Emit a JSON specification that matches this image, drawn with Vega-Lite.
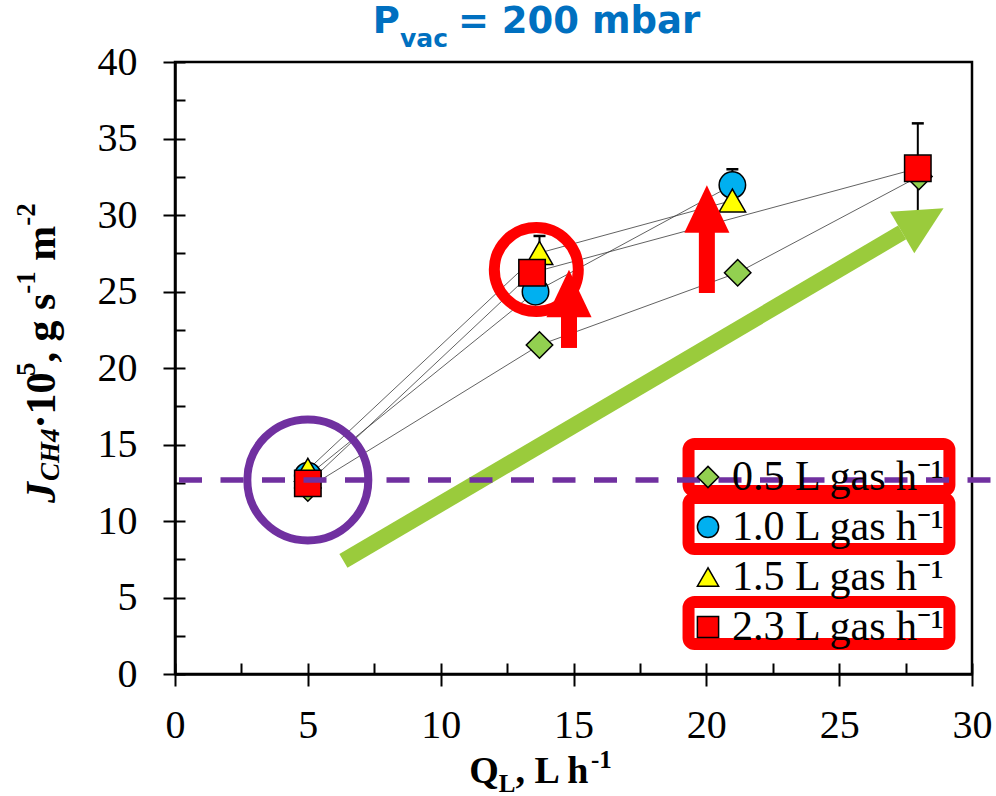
{
  "$schema": "https://vega.github.io/schema/vega-lite/v6.json",
  "width": 797,
  "height": 612,
  "autosize": {"type": "none"},
  "padding": {"left": 175, "top": 62, "right": 24, "bottom": 122},
  "background": "white",
  "config": {"view": {"stroke": "black", "strokeWidth": 2.5}},
  "datasets": {
    "pts": [
      {"gas": "0.5", "q": 5, "j": 12.16},
      {"gas": "0.5", "q": 13.72, "j": 21.5},
      {"gas": "0.5", "q": 21.18, "j": 26.23},
      {"gas": "0.5", "q": 28.0, "j": 32.52},
      {"gas": "1.0", "q": 5, "j": 12.96},
      {"gas": "1.0", "q": 13.57, "j": 24.99},
      {"gas": "1.0", "q": 20.98, "j": 31.96},
      {"gas": "1.5", "q": 5, "j": 13.35},
      {"gas": "1.5", "q": 13.72, "j": 27.52},
      {"gas": "1.5", "q": 20.98, "j": 30.95},
      {"gas": "2.3", "q": 5, "j": 12.46},
      {"gas": "2.3", "q": 13.44, "j": 26.23},
      {"gas": "2.3", "q": 27.96, "j": 33.05}
    ],
    "err": [
      {"gas": "1.5", "q": 13.72, "lo": 26.41, "hi": 28.63},
      {"gas": "1.0", "q": 20.98, "lo": 30.93, "hi": 32.99},
      {"gas": "2.3", "q": 27.96, "lo": 30.11, "hi": 35.99}
    ]
  },
  "resolve": {"axis": {"x": "independent", "y": "independent"}},
  "layer": [
    {
      "data": {"name": "pts"},
      "mark": {"type": "line", "stroke": "#3a3a3a", "strokeWidth": 0.8},
      "encoding": {
        "x": {"field": "q", "type": "quantitative",
          "scale": {"domain": [0, 30], "nice": false, "zero": false},
          "axis": {"orient": "bottom", "values": [0, 5, 10, 15, 20, 25, 30], "title": null, "grid": false,
            "tickSize": 12, "tickWidth": 2, "tickColor": "black", "domainColor": "black", "domainWidth": 2.5,
            "labelFont": "Liberation Serif", "labelFontSize": 40, "labelColor": "black", "labelPadding": 19,
            "labelFlush": false, "labelOverlap": false}},
        "y": {"field": "j", "type": "quantitative",
          "scale": {"domain": [0, 40], "nice": false, "zero": false},
          "axis": {"orient": "left", "values": [0, 5, 10, 15, 20, 25, 30, 35, 40], "title": null, "grid": false,
            "tickSize": 12, "tickWidth": 2, "tickColor": "black", "domainColor": "black", "domainWidth": 2.5,
            "labelFont": "Liberation Serif", "labelFontSize": 40, "labelColor": "black", "labelPadding": 26,
            "labelFlush": false, "labelOverlap": false}},
        "detail": {"field": "gas"}
      }
    },
    {
      "data": {"name": "err"},
      "mark": {"type": "rule", "stroke": "black", "strokeWidth": 2},
      "encoding": {
        "x": {"field": "q", "type": "quantitative", "axis": null},
        "y": {"field": "lo", "type": "quantitative", "axis": null},
        "y2": {"field": "hi"}
      }
    },
    {
      "data": {"name": "err"},
      "mark": {"type": "point", "shape": "stroke", "size": 144, "stroke": "black", "strokeWidth": 2.5, "filled": false, "opacity": 1},
      "encoding": {
        "x": {"field": "q", "type": "quantitative", "axis": null},
        "y": {"field": "hi", "type": "quantitative", "axis": null}
      }
    },
    {
      "data": {"name": "err"},
      "mark": {"type": "point", "shape": "stroke", "size": 144, "stroke": "black", "strokeWidth": 2.5, "filled": false, "opacity": 1},
      "encoding": {
        "x": {"field": "q", "type": "quantitative", "axis": null},
        "y": {"field": "lo", "type": "quantitative", "axis": null}
      }
    },
    {
      "data": {"name": "pts"},
      "mark": {"type": "point", "filled": true, "size": 700, "opacity": 1},
      "encoding": {
        "x": {"field": "q", "type": "quantitative",
          "axis": {"orient": "bottom", "values": [0, 2.5, 5, 7.5, 10, 12.5, 15, 17.5, 20, 22.5, 25, 27.5, 30],
            "title": null, "grid": false, "labels": false, "domain": false,
            "tickSize": -11, "tickWidth": 2, "tickColor": "black"}},
        "y": {"field": "j", "type": "quantitative",
          "axis": {"orient": "left", "values": [0, 2.5, 5, 7.5, 10, 12.5, 15, 17.5, 20, 22.5, 25, 27.5, 30, 32.5, 35, 37.5, 40],
            "title": null, "grid": false, "labels": false, "domain": false,
            "tickSize": -10, "tickWidth": 2, "tickColor": "black"}},
        "stroke": {"value": "black"},
        "strokeWidth": {"value": 1.5},
        "color": {"field": "gas", "type": "nominal",
          "scale": {"domain": ["0.5", "1.0", "1.5", "2.3"], "range": ["#92D050", "#00B0F0", "#FFFF00", "#FF0000"]},
          "legend": {"orient": "none", "legendX": 512, "legendY": 394, "title": null, "padding": 0,
            "labelExpr": "datum.label + ' L gas h⁻¹'", "labelFont": "Liberation Serif", "labelFontSize": 42,
            "labelColor": "black", "labelLimit": 400, "symbolSize": 450, "symbolStrokeColor": "black", "symbolStrokeWidth": 1.5,
            "labelOffset": 3, "rowPadding": 8, "symbolOpacity": 1,
            "encode": {"symbols": {"update": {"stroke": {"value": "black"}, "strokeWidth": {"value": 1.5}}}}}},
        "shape": {"field": "gas", "type": "nominal",
          "scale": {"domain": ["0.5", "1.0", "1.5", "2.3"], "range": ["diamond", "circle", "triangle-up", "square"]},
          "legend": {"orient": "none", "legendX": 512, "legendY": 394, "title": null, "padding": 0,
            "labelExpr": "datum.label + ' L gas h⁻¹'", "labelFont": "Liberation Serif", "labelFontSize": 42,
            "labelColor": "black", "labelLimit": 400, "symbolSize": 450, "symbolStrokeColor": "black", "symbolStrokeWidth": 1.5,
            "labelOffset": 3, "rowPadding": 8, "symbolOpacity": 1,
            "encode": {"symbols": {"update": {"stroke": {"value": "black"}, "strokeWidth": {"value": 1.5}}}}}}
      }
    },
    {
      "data": {"values": [{"q": 13.6, "j": 26.44}]},
      "mark": {"type": "point", "shape": "circle", "size": 7056, "stroke": "#FF0000", "strokeWidth": 11, "filled": false, "opacity": 1},
      "encoding": {
        "x": {"field": "q", "type": "quantitative", "axis": null},
        "y": {"field": "j", "type": "quantitative", "axis": null}
      }
    },
    {
      "data": {"values": [{"q": 5.0, "j": 12.68}]},
      "mark": {"type": "point", "shape": "circle", "size": 14641, "stroke": "#7030A0", "strokeWidth": 8, "filled": false, "opacity": 1},
      "encoding": {
        "x": {"field": "q", "type": "quantitative", "axis": null},
        "y": {"field": "j", "type": "quantitative", "axis": null}
      }
    },
    {
      "data": {"values": [{"q": 14.83, "lo": 21.31, "hi": 23.7}, {"q": 20.02, "lo": 24.9, "hi": 29.2}]},
      "mark": {"type": "rule", "stroke": "#FF0000", "strokeWidth": 16, "strokeCap": "butt"},
      "encoding": {
        "x": {"field": "q", "type": "quantitative", "axis": null},
        "y": {"field": "lo", "type": "quantitative", "axis": null},
        "y2": {"field": "hi"}
      }
    },
    {
      "data": {"values": [{"q": 14.83, "j": 24.87}, {"q": 20.02, "j": 30.39}]},
      "mark": {"type": "point", "shape": "M0,-1L0.95,1L-0.95,1Z", "size": 2256, "filled": true, "fill": "#FF0000", "strokeWidth": 0, "opacity": 1},
      "encoding": {
        "x": {"field": "q", "type": "quantitative", "axis": null},
        "y": {"field": "j", "type": "quantitative", "axis": null}
      }
    },
    {
      "data": {"values": [{"q": 6.34, "j": 7.39}, {"q": 27.37, "j": 28.86}]},
      "mark": {"type": "line", "stroke": "#9ACB3C", "strokeWidth": 16, "strokeCap": "butt"},
      "encoding": {
        "x": {"field": "q", "type": "quantitative", "axis": null},
        "y": {"field": "j", "type": "quantitative", "axis": null}
      }
    },
    {
      "data": {"values": [{"q": 28.15, "j": 29.65}]},
      "mark": {"type": "point", "shape": "M1,0L-1,-1L-1,1Z", "size": 2304, "angle": 329.6, "filled": true, "fill": "#9ACB3C", "strokeWidth": 0, "opacity": 1},
      "encoding": {
        "x": {"field": "q", "type": "quantitative", "axis": null},
        "y": {"field": "j", "type": "quantitative", "axis": null}
      }
    },
    {
      "data": {"values": [
        {"a": 19.33, "b": 29.15, "lo": 11.96, "hi": 15.03},
        {"a": 19.33, "b": 29.15, "lo": 8.17, "hi": 11.5},
        {"a": 19.33, "b": 29.15, "lo": 1.96, "hi": 4.71}
      ]},
      "mark": {"type": "rect", "filled": false, "stroke": "#FF0000", "strokeWidth": 12, "cornerRadius": 6},
      "encoding": {
        "x": {"field": "a", "type": "quantitative", "axis": null},
        "x2": {"field": "b"},
        "y": {"field": "lo", "type": "quantitative", "axis": null},
        "y2": {"field": "hi"}
      }
    },
    {
      "data": {"values": [{"a": 0, "b": 31, "j": 12.68}]},
      "mark": {"type": "rule", "stroke": "#7030A0", "strokeWidth": 5.5, "strokeDash": [23, 18.5], "strokeDashOffset": -4},
      "encoding": {
        "x": {"field": "a", "type": "quantitative", "axis": null},
        "x2": {"field": "b"},
        "y": {"field": "j", "type": "quantitative", "axis": null}
      }
    },
    {
      "data": {"values": [{"q": 7.44, "j": 41.9, "t": "P"}, {"q": 10.65, "j": 41.9, "t": "= 200 mbar"}]},
      "mark": {"type": "text", "font": "DejaVu Sans", "fontWeight": "bold", "fontSize": 37, "fill": "#0070C0", "align": "left", "baseline": "alphabetic"},
      "encoding": {
        "x": {"field": "q", "type": "quantitative", "axis": null},
        "y": {"field": "j", "type": "quantitative", "axis": null},
        "text": {"field": "t"}
      }
    },
    {
      "data": {"values": [{"q": 8.47, "j": 41.0, "t": "vac"}]},
      "mark": {"type": "text", "font": "DejaVu Sans", "fontWeight": "bold", "fontSize": 25, "fill": "#0070C0", "align": "left", "baseline": "alphabetic"},
      "encoding": {
        "x": {"field": "q", "type": "quantitative", "axis": null},
        "y": {"field": "j", "type": "quantitative", "axis": null},
        "text": {"field": "t"}
      }
    },
    {
      "data": {"values": [{"q": 11.08, "j": -7.12, "t": "Q"}, {"q": 12.82, "j": -7.12, "t": ", L h"}]},
      "mark": {"type": "text", "font": "Liberation Serif", "fontWeight": "bold", "fontSize": 38, "fill": "black", "align": "left", "baseline": "alphabetic"},
      "encoding": {
        "x": {"field": "q", "type": "quantitative", "axis": null},
        "y": {"field": "j", "type": "quantitative", "axis": null},
        "text": {"field": "t"}
      }
    },
    {
      "data": {"values": [{"q": 12.19, "j": -7.69, "t": "L"}, {"q": 15.66, "j": -6.14, "t": "-1"}]},
      "mark": {"type": "text", "font": "Liberation Serif", "fontWeight": "bold", "fontSize": 25, "fill": "black", "align": "left", "baseline": "alphabetic"},
      "encoding": {
        "x": {"field": "q", "type": "quantitative", "axis": null},
        "y": {"field": "j", "type": "quantitative", "axis": null},
        "text": {"field": "t"}
      }
    },
    {
      "data": {"values": [{"q": -4.52, "j": 11.18, "t": "J"}]},
      "mark": {"type": "text", "font": "Liberation Serif", "fontWeight": "bold", "fontStyle": "italic", "fontSize": 42, "fill": "black", "align": "left", "baseline": "alphabetic", "angle": 270},
      "encoding": {
        "x": {"field": "q", "type": "quantitative", "axis": null},
        "y": {"field": "j", "type": "quantitative", "axis": null},
        "text": {"field": "t"}
      }
    },
    {
      "data": {"values": [{"q": -4.37, "j": 12.61, "t": "CH4"}]},
      "mark": {"type": "text", "font": "Liberation Serif", "fontWeight": "bold", "fontStyle": "italic", "fontSize": 27, "fill": "black", "align": "left", "baseline": "alphabetic", "angle": 270},
      "encoding": {
        "x": {"field": "q", "type": "quantitative", "axis": null},
        "y": {"field": "j", "type": "quantitative", "axis": null},
        "text": {"field": "t"}
      }
    },
    {
      "data": {"values": [{"q": -4.52, "j": 16.05, "t": "·10"}, {"q": -4.52, "j": 20.36, "t": ", g s"}, {"q": -4.52, "j": 27.01, "t": "m"}]},
      "mark": {"type": "text", "font": "Liberation Serif", "fontWeight": "bold", "fontSize": 42, "fill": "black", "align": "left", "baseline": "alphabetic", "angle": 270},
      "encoding": {
        "x": {"field": "q", "type": "quantitative", "axis": null},
        "y": {"field": "j", "type": "quantitative", "axis": null},
        "text": {"field": "t"}
      }
    },
    {
      "data": {"values": [{"q": -5.27, "j": 19.48, "t": "5"}, {"q": -5.27, "j": 24.86, "t": "-1"}, {"q": -5.27, "j": 29.3, "t": "-2"}]},
      "mark": {"type": "text", "font": "Liberation Serif", "fontWeight": "bold", "fontSize": 27, "fill": "black", "align": "left", "baseline": "alphabetic", "angle": 270},
      "encoding": {
        "x": {"field": "q", "type": "quantitative", "axis": null},
        "y": {"field": "j", "type": "quantitative", "axis": null},
        "text": {"field": "t"}
      }
    }
  ]
}
